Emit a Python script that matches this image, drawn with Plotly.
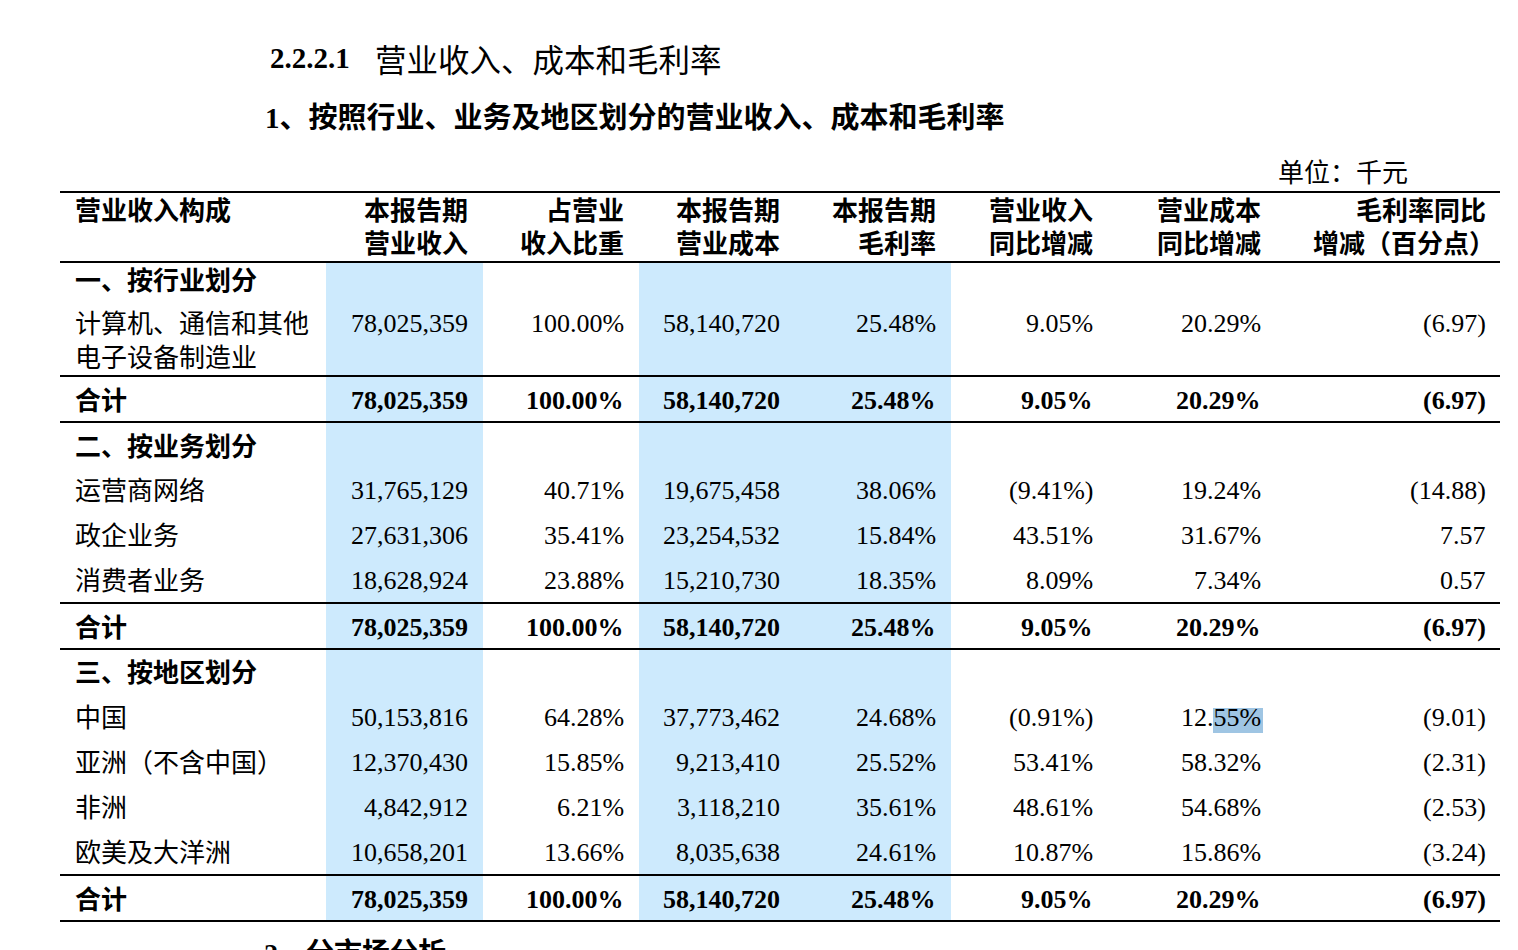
import plotly.graph_objects as go

W, H = 1518, 950

# ---- data ----
row_labels = ["一、按行业划分", "计算机、通信和其他<br>电子设备制造业", "合计",
              "二、按业务划分", "运营商网络", "政企业务", "消费者业务", "合计",
              "三、按地区划分", "中国", "亚洲（不含中国）", "非洲", "欧美及大洋洲", "合计"]
row_kind = ["section", "item", "total",
            "section", "item", "item", "item", "total",
            "section", "item", "item", "item", "item", "total"]

revenue = ["", "78,025,359", "78,025,359",
           "", "31,765,129", "27,631,306", "18,628,924", "78,025,359",
           "", "50,153,816", "12,370,430", "4,842,912", "10,658,201", "78,025,359"]
rev_share = ["", "100.00%", "100.00%",
             "", "40.71%", "35.41%", "23.88%", "100.00%",
             "", "64.28%", "15.85%", "6.21%", "13.66%", "100.00%"]
cost = ["", "58,140,720", "58,140,720",
        "", "19,675,458", "23,254,532", "15,210,730", "58,140,720",
        "", "37,773,462", "9,213,410", "3,118,210", "8,035,638", "58,140,720"]
gross_margin = ["", "25.48%", "25.48%",
                "", "38.06%", "15.84%", "18.35%", "25.48%",
                "", "24.68%", "25.52%", "35.61%", "24.61%", "25.48%"]
rev_yoy = ["", "9.05%", "9.05%",
           "", "(9.41%)", "43.51%", "8.09%", "9.05%",
           "", "(0.91%)", "53.41%", "48.61%", "10.87%", "9.05%"]
cost_yoy = ["", "20.29%", "20.29%",
            "", "19.24%", "31.67%", "7.34%", "20.29%",
            "", "12.55%", "58.32%", "54.68%", "15.86%", "20.29%"]
margin_chg = ["", "(6.97)", "(6.97)",
              "", "(14.88)", "7.57", "0.57", "(6.97)",
              "", "(9.01)", "(2.31)", "(2.53)", "(3.24)", "(6.97)"]

header_first = "营业收入构成"
headers = [["本报告期", "营业收入"], ["占营业", "收入比重"], ["本报告期", "营业成本"],
           ["本报告期", "毛利率"], ["营业收入", "同比增减"], ["营业成本", "同比增减"],
           ["毛利率同比", "增减（百分点）"]]

title = "2.2.2.1"
title_cn = "营业收入、成本和毛利率"
subtitle = "1、按照行业、业务及地区划分的营业收入、成本和毛利率"
unit = "单位：千元"
next_heading = "2、分市场分析"

# ---- layout ----
FONT = "Liberation Serif, Noto Sans CJK SC, serif"
CJK = "Noto Sans CJK SC, sans-serif"
BLUE = "#cdeafd"
col_right = [468, 624, 780, 936, 1093, 1261, 1486]
label_x = 76
row_y = [280, 323, 400, 446, 490, 535, 580, 627, 672, 717, 762, 807, 852, 899]
table_left, table_right = 60, 1500
rule_y = [192, 262, 376, 422, 603, 649, 875, 921]

fig = go.Figure()
fig.add_trace(go.Scatter(x=[0, W], y=[0, H], mode="markers",
                         marker=dict(opacity=0), hoverinfo="skip"))

# shaded columns
for x0, x1 in [(326, 483), (639, 951)]:
    fig.add_shape(type="rect", x0=x0, x1=x1, y0=263, y1=920,
                  fillcolor=BLUE, line_width=0, layer="below")
# text selection highlight
fig.add_shape(type="rect", x0=1213, x1=1263, y0=708, y1=733,
              fillcolor="#9fc5e3", line_width=0, layer="below")

for y in rule_y:
    fig.add_shape(type="line", x0=table_left, x1=table_right, y0=y, y1=y,
                  line=dict(color="black", width=2))


def txt(x, y, s, size=26, bold=False, anchor="right", family=FONT, vanchor="middle"):
    fig.add_annotation(x=x, y=y, xref="x", yref="y", text=s, showarrow=False,
                       xanchor=anchor, yanchor=vanchor, borderpad=0, borderwidth=0,
                       xshift=0 if anchor == "right" else -1,
                       font=dict(family=family, size=size, color="black",
                                 weight="bold" if bold else "normal"))


# titles
txt(271, 58, title, size=29, bold=True, anchor="left")
txt(376, 58, title_cn, size=31.5, anchor="left", family=CJK)
txt(266, 118, subtitle, size=29, bold=True, anchor="left")
txt(1408, 173, unit, size=26)
txt(265, 938, next_heading, size=28, bold=True, anchor="left", vanchor="top")

# headers
txt(label_x, 211, header_first, bold=True, anchor="left")
for i, (h1, h2) in enumerate(headers):
    xr = col_right[i]
    txt(xr, 211, h1, bold=True)
    txt(xr + (9 if i == 6 else 0), 244, h2, bold=True)

# body
columns = [revenue, rev_share, cost, gross_margin, rev_yoy, cost_yoy, margin_chg]
for r, lab in enumerate(row_labels):
    kind = row_kind[r]
    bold = kind != "item"
    for k, line in enumerate(lab.split("<br>")):
        txt(label_x, row_y[r] + 1 + 34 * k, line, bold=bold, anchor="left")
    for c, col in enumerate(columns):
        if col[r]:
            txt(col_right[c], row_y[r], col[r], bold=kind == "total")

fig.update_layout(
    width=W, height=H, margin=dict(l=0, r=0, t=0, b=0),
    paper_bgcolor="white", plot_bgcolor="white", showlegend=False,
    xaxis=dict(range=[0, W], visible=False, fixedrange=True),
    yaxis=dict(range=[H, 0], visible=False, fixedrange=True),
)

fig.write_html("out.html", config={"displayModeBar": False},
               post_script="document.body.style.margin='0';document.body.style.overflow='hidden';")
